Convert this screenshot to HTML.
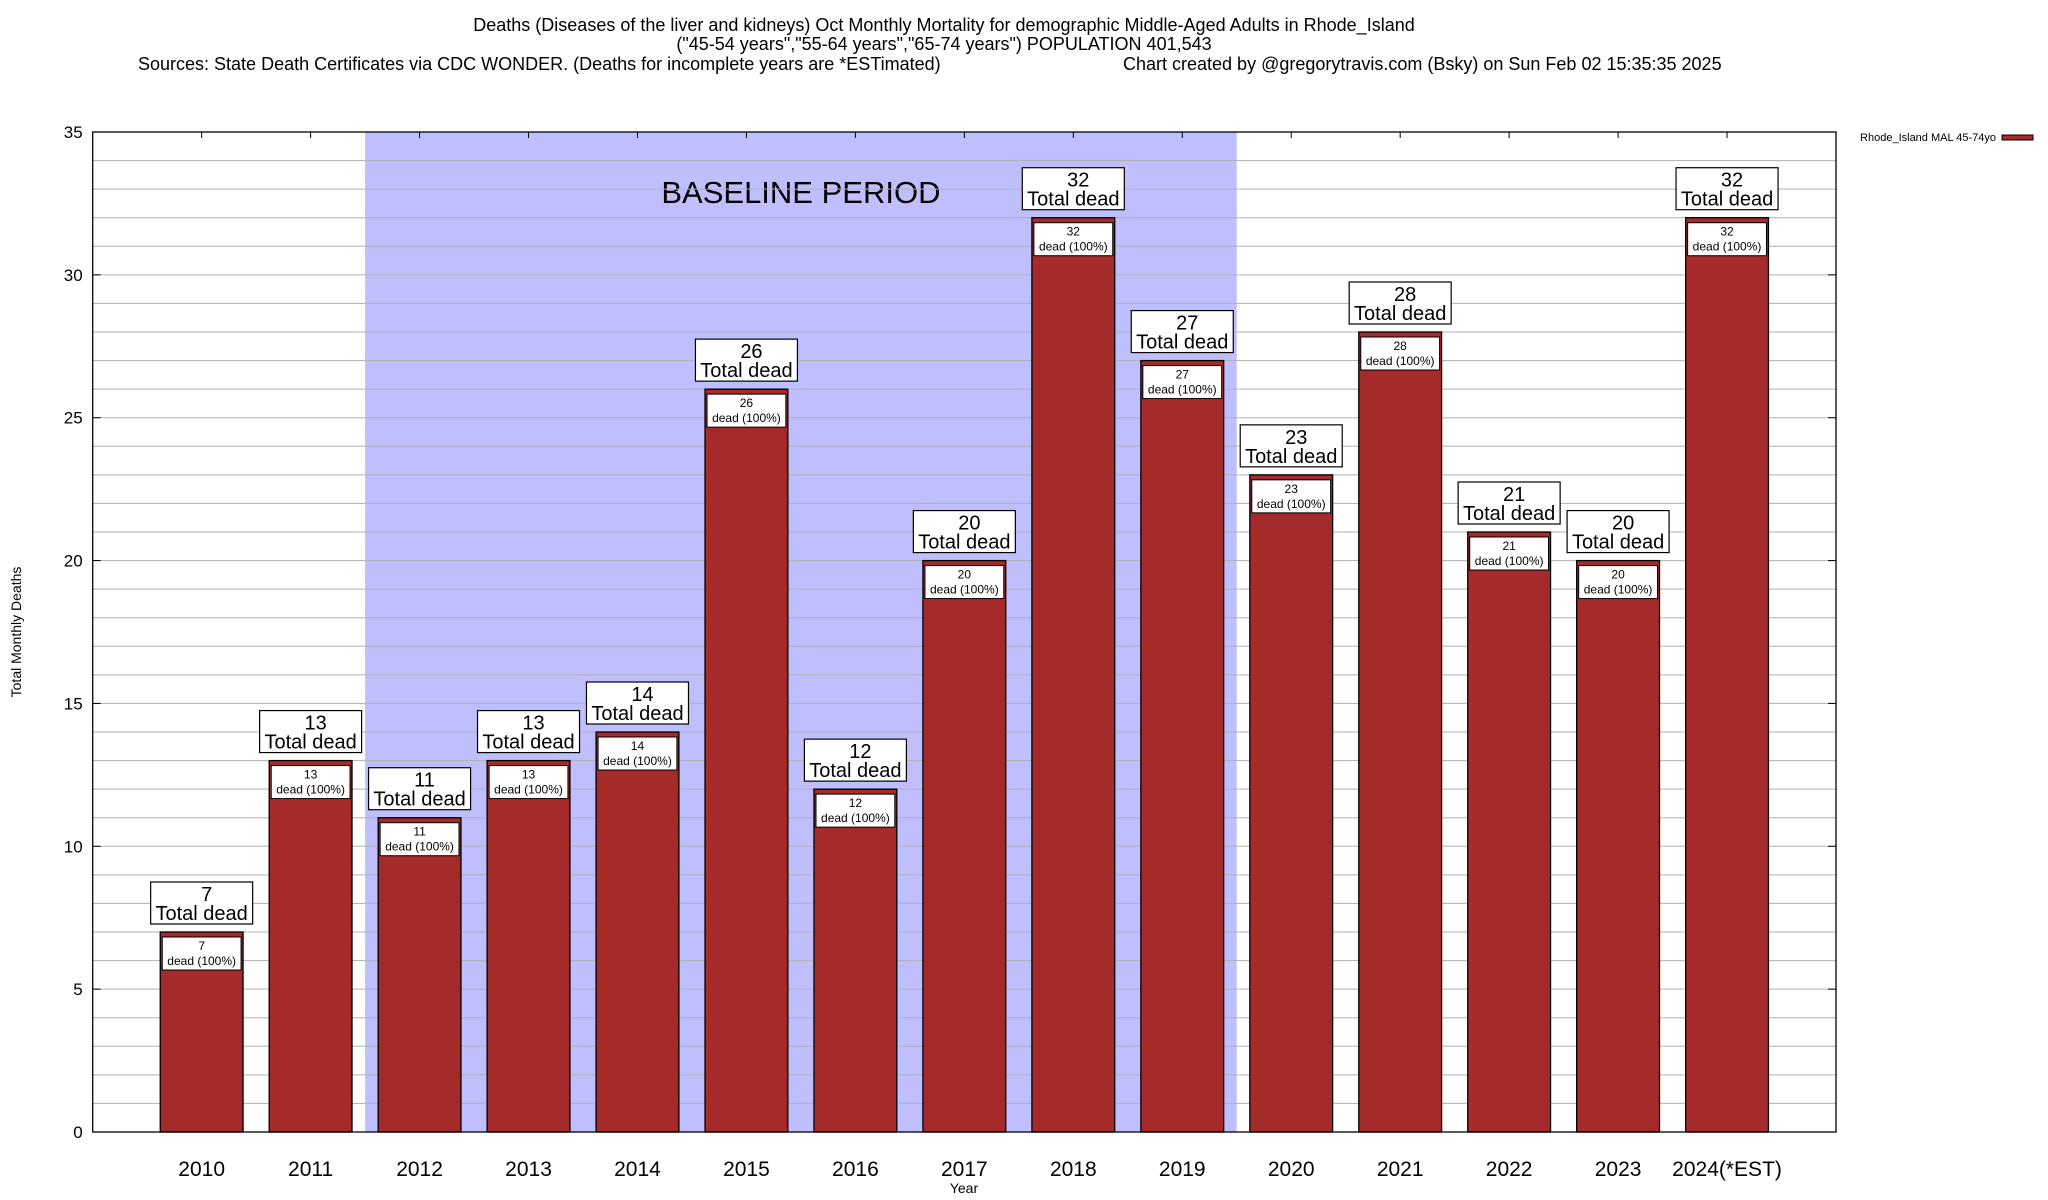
<!DOCTYPE html>
<html><head><meta charset="utf-8">
<style>
body{margin:0;background:#fff;}
svg{display:block;font-family:"Liberation Sans",sans-serif;}
</style></head>
<body>
<svg id="chart" width="2048" height="1200" viewBox="0 0 2048 1200" xmlns="http://www.w3.org/2000/svg">
  <g font-size="18" fill="#000">
    <text x="944" y="31" text-anchor="middle">Deaths (Diseases of the liver and kidneys) Oct Monthly Mortality for demographic Middle-Aged Adults in Rhode_Island</text>
    <text x="944" y="50" text-anchor="middle">("45-54 years","55-64 years","65-74 years") POPULATION 401,543</text>
    <text x="138" y="70">Sources: State Death Certificates via CDC WONDER. (Deaths for incomplete years are *ESTimated)</text>
    <text x="1123" y="70">Chart created by @gregorytravis.com (Bsky) on Sun Feb 02 15:35:35 2025</text>
  </g>
  <g id="plot"></g>
  <text transform="translate(21,632) rotate(-90)" text-anchor="middle" font-size="14">Total Monthly Deaths</text>
  <text x="964" y="1193" text-anchor="middle" font-size="14">Year</text>
  <g>
    <text x="1996" y="141" text-anchor="end" font-size="11">Rhode_Island MAL 45-74yo</text>
    <rect x="2002" y="135" width="31" height="5" fill="#a52a2a" stroke="#000" stroke-width="1"/>
  </g>
</svg>
<script>
const categories = ["2010","2011","2012","2013","2014","2015","2016","2017","2018","2019","2020","2021","2022","2023","2024(*EST)"];
const deaths = [7,13,11,13,14,26,12,20,32,27,23,28,21,20,32];
const yTicks = [0,5,10,15,20,25,30,35];
const baselineStart = 2; // index of first baseline year
const baselineEnd = 9;   // index of last baseline year

const L=92.7, R=1836, T=132, B=1132, yMax=35;
const slot=(R-L)/(categories.length+1);
const x=i=>L+(i+1)*slot;
const y=v=>B-(v/yMax)*(B-T);
const NS="http://www.w3.org/2000/svg";
const g=document.getElementById('plot');
function mk(tag,attrs,parent){const e=document.createElementNS(NS,tag);for(const k in attrs)e.setAttribute(k,attrs[k]);(parent||g).appendChild(e);return e;}

// baseline shading
const sh=mk('rect',{x:x(baselineStart-0.5),y:T,width:x(baselineEnd+0.5)-x(baselineStart-0.5),height:B-T,fill:'#bfbfff'});


const bt=mk('text',{x:(x(baselineStart-0.5)+x(baselineEnd+0.5))/2,y:203,'text-anchor':'middle','font-size':31});
bt.textContent='BASELINE PERIOD';



// gridlines every 1
for(let v=1;v<yMax;v++){
  const gl=mk('line',{x1:L,x2:R,y1:y(v),y2:y(v),stroke:'#b0b0b0','stroke-width':1});
  
  
}
// y ticks
yTicks.forEach(v=>{
  const t=mk('text',{x:L-10,y:y(v)+6,'text-anchor':'end','font-size':17});
  t.textContent=v;
  
  
  mk('line',{x1:L,x2:L+8,y1:y(v),y2:y(v),stroke:'#000'});
  mk('line',{x1:R,x2:R-8,y1:y(v),y2:y(v),stroke:'#000'});
});
// bars
const bw=slot*0.76;
categories.forEach((c,i)=>{
  const v=deaths[i], cx=x(i), top=y(v);
  const bar=mk('rect',{x:cx-bw/2,y:top,width:bw,height:B-top,fill:'#a52a2a',stroke:'#000','stroke-width':1.3});
  
  
  const ib=mk('rect',{x:cx-bw/2+2,y:top+5,width:bw-4,height:33,fill:'#fff',stroke:'#000','stroke-width':1});
  
  
  const t1=mk('text',{x:cx,y:top+18,'text-anchor':'middle','font-size':12});
  t1.textContent=v;
  
  
  const t2=mk('text',{x:cx,y:top+33,'text-anchor':'middle','font-size':12});
  t2.textContent='dead (100%)';
  
  
  const ob=mk('rect',{x:cx-51,y:top-50,width:102,height:42,fill:'#fff',stroke:'#000','stroke-width':1.2});
  
  
  const t3=mk('text',{x:cx+5,y:top-31,'text-anchor':'middle','font-size':20});
  t3.textContent=v;
  
  
  const t4=mk('text',{x:cx,y:top-12,'text-anchor':'middle','font-size':20});
  t4.textContent='Total dead';
  
  
  const xl=mk('text',{x:cx,y:1176,'text-anchor':'middle','font-size':21});
  xl.textContent=c;
  
  
  mk('line',{x1:cx,x2:cx,y1:T,y2:T+6,stroke:'#000'});
});
// frame
const fr=mk('rect',{x:L,y:T,width:R-L,height:B-T,fill:'none',stroke:'#000','stroke-width':1.3});


</script>
</body></html>
